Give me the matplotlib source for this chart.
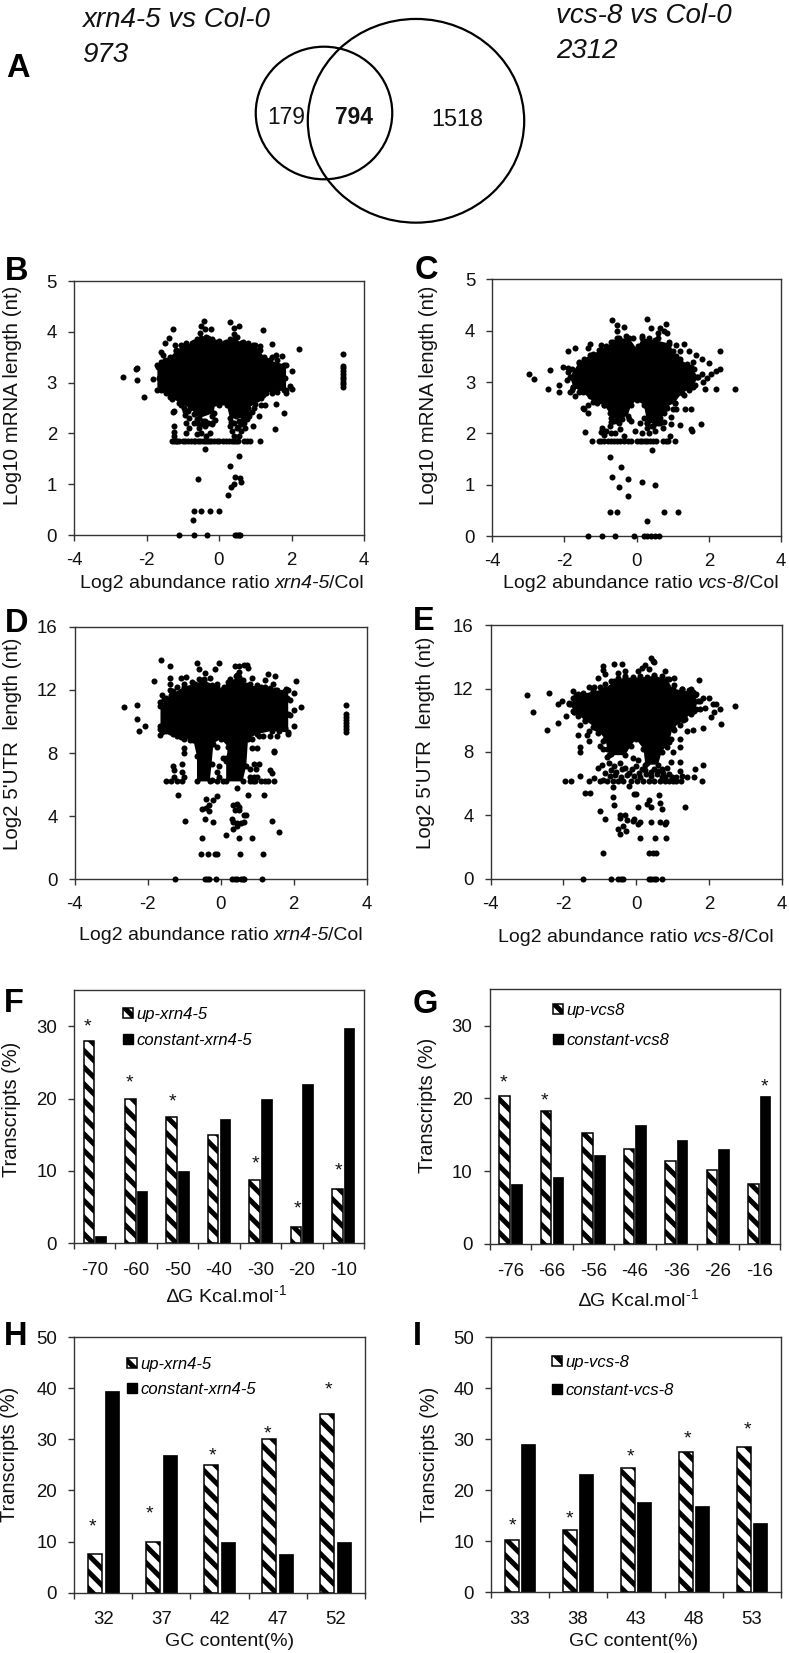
import numpy as np
import matplotlib
matplotlib.use("Agg")
import matplotlib.pyplot as plt
from matplotlib.patches import Ellipse, Patch

plt.rcParams['font.family'] = ['Liberation Sans', 'DejaVu Sans']
plt.rcParams['axes.unicode_minus'] = False
plt.rcParams['mathtext.default'] = 'regular'
plt.rcParams['mathtext.fontset'] = 'custom'
plt.rcParams['mathtext.rm'] = 'Liberation Sans'
plt.rcParams['mathtext.it'] = 'Liberation Sans:italic'
plt.rcParams['hatch.linewidth'] = 3.6
plt.rcParams['hatch.color'] = 'black'

W, H = 789, 1653

# ---- Scatter data: points. The saturated black middle of each
# cloud cannot be resolved into single points, so it is kept as a read-off outline.
b_core = [(-1.7,2.85),(-1.7,3.35),(-1.4,3.45),(-1.2,3.62),(-1.0,3.72),(-0.75,3.78),(-0.6,3.85),(-0.3,3.88),(-0.1,3.8),(0.2,3.8),(0.45,3.88),(0.6,3.78),(0.95,3.75),(1.1,3.65),(1.3,3.45),(1.85,3.35),(1.85,2.85),(1.3,2.8),(1.15,2.7),(1.0,2.58),(0.8,2.5),(0.72,2.3),(0.3,2.3),(0.22,2.55),(0.0,2.55),(-0.1,2.6),(-0.15,2.4),(-0.55,2.3),(-0.8,2.5),(-1.1,2.6),(-1.3,2.72)]
b_rim = [(-1.65,3.1),(-1.68,3.3),(-1.6,3.4),(-1.5,3.45),(-1.35,3.5),(-1.2,3.65),(-1.05,3.75),(-0.9,3.78),(-0.7,3.8),(-0.5,3.88),(-0.35,3.9),(-0.2,3.85),(0.0,3.82),(0.15,3.78),(0.3,3.85),(0.5,3.9),(0.65,3.8),(0.8,3.78),(1.0,3.75),(1.12,3.65),(1.25,3.5),(1.4,3.45),(1.6,3.45),(1.8,3.35),(1.82,3.1),(1.8,2.85),(1.6,2.82),(1.45,2.8),(1.2,2.75),(1.05,2.68),(-1.45,2.8),(-1.6,2.85),(-1.35,2.72),(-0.82,2.3),(-0.7,2.38),(-0.62,2.28),(-0.5,2.18),(-0.4,2.25),(-0.3,2.2),(-0.18,2.18),(0.32,2.22),(0.42,2.2),(0.52,2.12),(0.6,2.18),(0.7,2.2),(0.82,2.35),(-0.95,2.45),(0.92,2.42)]
b_pts = [(-2.65,3.12),(-2.3,3.27),(-2.27,3.28),(-2.27,3.05),(-1.83,3.07),(-2.07,2.71),(-0.42,4.22),(-0.5,4.11),(-0.38,4.06),(-0.52,3.98),(-0.23,4.06),(-1.27,4.05),(0.3,4.19),(0.55,4.12),(0.42,4.07),(0.42,3.95),(1.2,4.03),(1.47,3.76),(2.2,3.67),(1.13,3.72),(-1.38,3.87),(-1.5,3.78),(-1.22,3.75),(2.0,3.22),(1.47,3.5),(1.57,3.55),(1.75,3.52),(1.97,2.93),(2.02,2.87),(1.85,2.8),(1.57,2.57),(1.17,2.55),(1.27,2.55),(1.8,2.41),(1.1,2.35),(0.97,2.5),(0.95,2.14),(1.55,2.08),(1.13,1.86),(-1.6,3.6),(-1.55,3.55),(-1.3,2.68),(-1.2,2.72),(-1.25,2.45),(-1.28,2.43),(-1.05,2.55),(-0.97,2.5),(-0.95,2.37),(-0.85,2.45),(-0.72,2.55),
 (3.42,3.57),(3.42,3.33),(3.42,3.28),(3.42,3.22),(3.42,3.17),(3.42,3.12),(3.42,3.07),(3.42,3.02),(3.42,2.97),(3.42,2.92),
 (-1.3,1.86),(-1.25,1.86),(-1.2,1.86),(-1.15,1.86),(-1.1,1.86),(-1.0,1.86),(-0.95,1.86),(-0.85,1.86),(-0.78,1.86),(-0.7,1.86),(-0.65,1.86),(-0.58,1.86),(-0.52,1.86),(-0.45,1.86),(-0.4,1.86),(-0.33,1.86),(-0.28,1.86),(-0.22,1.86),(-0.15,1.86),(-0.05,1.86),(0.0,1.86),(0.1,1.86),(0.18,1.86),(0.28,1.86),(0.35,1.86),(0.42,1.86),(0.48,1.86),(0.52,1.86),(0.7,1.86),(0.78,1.86),(0.85,1.86),
 (-1.25,2.02),(-1.23,2.15),(-1.25,1.95),(-0.9,2.0),(-0.9,2.2),(-0.82,2.1),(-0.7,2.2),(-0.6,2.2),(-0.55,2.1),(-0.5,2.0),(-0.6,1.98),(-0.45,2.25),(-0.38,2.15),(-0.35,1.95),(-0.2,2.2),(-0.18,2.35),(-0.1,2.27),(-0.25,2.0),(0.3,2.15),(0.38,2.45),(0.35,2.05),(0.42,1.95),(0.5,2.1),(0.55,2.25),(0.62,2.05),(0.65,2.28),(0.78,2.28),(0.78,2.4),(0.72,2.1),(0.55,1.95),(0.48,2.35),
 (-0.4,1.69),(0.55,1.55),(0.3,1.35),(-0.58,1.11),(0.45,1.15),(0.58,1.12),(0.6,1.05),(0.42,1.0),(0.32,0.95),(0.25,0.78),(-0.68,0.48),(-0.5,0.48),(-0.25,0.48),(0.0,0.48),(-0.72,0.3),(-1.1,0),(-0.7,0),(-0.33,0),(0.45,0),(0.5,0),(0.55,0),(0.58,0)]

c_core = [(-1.85,3.1),(-1.6,3.38),(-1.3,3.52),(-1.0,3.62),(-0.65,3.78),(-0.5,3.85),(-0.2,3.85),(0.0,3.65),(0.15,3.85),(0.5,3.82),(0.9,3.75),(1.1,3.5),(1.5,3.3),(1.7,3.1),(1.55,2.9),(1.25,2.78),(1.05,2.6),(0.8,2.5),(0.65,2.2),(0.3,2.2),(0.2,2.55),(0.0,2.65),(-0.15,2.55),(-0.25,2.35),(-0.55,2.25),(-0.75,2.4),(-0.9,2.55),(-1.2,2.62),(-1.5,2.8),(-1.75,2.9)]
c_rim = [(-1.8,3.25),(-1.6,3.4),(-1.45,3.45),(-1.2,3.55),(-1.05,3.62),(-0.85,3.7),(-0.7,3.78),(-0.55,3.85),(-0.3,3.9),(-0.1,3.85),(0.05,3.7),(0.15,3.9),(0.35,3.85),(0.6,3.85),(0.9,3.78),(1.02,3.6),(1.2,3.45),(1.4,3.35),(1.58,3.25),(1.68,3.1),(1.62,2.95),(1.45,2.85),(1.3,2.75),(1.05,2.6),(0.85,2.5),(-0.9,2.55),(-1.1,2.6),(-1.3,2.72),(-1.6,2.8),(-1.8,2.85),(-0.72,2.3),(-0.62,2.24),(-0.5,2.2),(-0.4,2.28),(0.3,2.2),(0.42,2.15),(0.52,2.2),(0.62,2.28),(0.75,2.4)]
c_pts = [(-2.98,3.15),(-2.85,3.07),(-2.45,2.86),(-2.4,3.23),(-2.15,2.8),(-2.15,2.95),(-2.05,3.3),(-1.9,3.28),(-1.9,3.2),(-1.93,3.05),(-1.85,2.8),(-1.75,2.9),(-1.7,2.72),(-1.9,3.6),(-1.72,3.67),(-1.35,3.67),(-1.3,3.75),(-1.0,3.72),(-0.68,4.2),(-0.55,4.12),(-0.55,4.0),(-0.35,4.08),(0.3,4.22),(0.4,4.05),(0.6,3.95),(0.65,4.05),(0.8,4.13),(0.75,4.0),(0.83,3.95),(1.1,3.72),(1.3,3.75),(1.2,3.6),(1.45,3.6),(1.65,3.52),(1.8,3.45),(1.55,3.4),(2.0,3.37),(2.3,3.6),(2.3,3.25),(2.2,3.22),(2.05,3.15),(1.95,3.08),(1.85,3.0),(1.9,2.87),(2.2,2.86),(2.72,2.86),(1.8,3.15),(1.5,2.48),(1.35,2.47),(1.78,2.18),(1.5,2.08),(1.52,2.05),(1.2,2.16),(0.95,2.33),(0.95,2.18),(1.1,2.48),(1.02,2.47),(-1.45,2.47),(-1.35,2.55),(-1.35,2.4),(-1.5,2.5),(-1.43,2.03),
 (-1.25,1.86),(-1.05,1.86),(-1.0,1.86),(-0.9,1.86),(-0.8,1.86),(-0.72,1.86),(-0.62,1.86),(-0.55,1.86),(-0.45,1.86),(-0.35,1.86),(-0.25,1.86),(-0.15,1.86),(0.0,1.86),(0.08,1.86),(0.15,1.86),(0.22,1.86),(0.3,1.86),(0.38,1.86),(0.45,1.86),(0.55,1.86),(0.72,1.86),(0.8,1.86),(0.88,1.86),(1.05,1.86),
 (-1.0,2.02),(-0.95,2.1),(-0.9,1.98),(-0.85,2.05),(-0.75,2.15),(-0.72,2.0),(-0.7,2.22),(-0.6,2.0),(-0.45,2.08),(-0.35,1.95),(-0.2,2.28),(-0.15,2.25),(-0.05,2.05),(0.1,2.2),(0.15,2.0),(0.2,2.3),(0.28,2.1),(0.35,2.0),(0.45,2.15),(0.5,2.05),(0.6,2.2),(0.65,2.3),(0.72,2.1),(0.75,2.22),(0.92,1.95),
 (0.42,1.68),(-0.75,1.55),(-0.43,1.35),(-0.68,1.15),(-0.24,1.12),(0.14,1.05),(0.5,1.0),(-0.5,0.95),(-0.23,0.78),(-0.73,0.48),(-0.55,0.48),(0.75,0.48),(1.15,0.48),(0.28,0.3),(-1.35,0),(-0.95,0),(-0.6,0),(-0.08,0),(0.2,0),(0.3,0),(0.4,0),(0.5,0),(0.62,0)]

d_core = [(-1.65,9.5),(-1.65,11.0),(-1.35,11.7),(-1.0,12.2),(-0.7,12.4),(-0.45,12.6),(-0.1,12.2),(0.05,12.05),(0.2,12.5),(0.5,12.8),(0.7,12.3),(1.1,12.2),(1.5,12.0),(1.85,12.0),(1.85,9.3),(1.4,9.4),(1.0,9.2),(0.75,8.9),(0.7,7.2),(0.6,6.2),(0.15,6.2),(0.15,7.5),(0.2,8.4),(0.0,8.9),(-0.2,8.6),(-0.25,7.3),(-0.3,6.2),(-0.65,6.2),(-0.65,7.8),(-0.75,8.8),(-1.1,9.0),(-1.4,9.3)]
d_rim = [(-1.65,11.2),(-1.5,11.5),(-1.3,11.9),(-1.2,12.2),(-1.0,12.35),(-0.8,12.5),(-0.6,12.7),(-0.45,12.7),(-0.25,12.3),(-0.1,12.35),(0.1,12.2),(0.25,12.7),(0.45,12.95),(0.6,12.6),(0.8,12.35),(1.0,12.3),(1.2,12.2),(1.35,12.1),(1.55,12.0),(1.75,11.95),(1.83,11.5),(1.85,10.5),(1.75,9.6),(1.6,9.4),(-1.5,9.4),(-1.3,9.2),(-1.2,9.1),(-1.0,8.9),(-0.85,8.8),(0.85,8.9),(1.05,9.1)]
d_pts = [(-2.65,10.9),(-2.3,11.05),(-2.28,10.15),(-2.25,9.4),(-2.08,9.7),(-1.83,12.55),(-1.63,13.9),(-1.4,13.5),(-1.38,12.75),(-1.4,12.4),(-1.08,12.75),(-0.95,12.8),(-0.65,13.7),(-0.6,13.35),(-0.42,13.05),(-0.3,12.75),(-0.15,13.3),(-0.05,13.7),(0.4,13.5),(0.5,13.5),(0.65,13.55),(0.72,13.6),(0.75,13.4),(0.5,13.1),(0.42,12.9),(0.85,12.75),(1.2,12.6),(1.3,13.0),(1.5,12.85),(1.42,12.4),(2.07,12.55),(1.8,12.05),(2.0,11.8),(1.9,11.35),(2.2,10.9),(2.0,10.7),(1.9,10.4),(2.0,9.7),(1.85,9.2),(1.55,9.1),(1.35,9.1),(1.15,9.05),(-1.6,11.7),(-1.55,11.4),(-1.4,12.0),
 (3.42,11.05),(3.42,10.5),(3.42,10.3),(3.42,10.1),(3.42,9.9),(3.42,9.7),(3.42,9.5),(3.42,9.35),
 (-1.65,9.7),(-1.62,9.3),(-1.65,9.15),(-1.0,8.3),(-1.0,8.0),(1.0,8.3),(0.85,8.3),(1.45,8.15),(1.47,8.05),(-1.3,7.2),(-1.28,6.9),(-1.05,7.3),(-1.05,6.8),(0.9,7.3),(1.05,7.3),(1.35,6.9),(1.4,6.75),(0.97,7.0),(0.8,7.0),(-0.1,8.4),(0.05,7.7),(-0.05,7.2),(0.15,7.7),(-0.1,6.8),
 (-1.5,6.2),(-1.35,6.2),(-1.28,6.5),(-1.2,6.2),(-1.05,6.2),(-1.0,6.5),(-0.1,6.2),(-0.05,6.5),(0.05,6.2),(0.8,6.2),(0.88,6.2),(0.95,6.2),(1.0,6.5),(1.1,6.2),(1.2,6.2),(1.3,6.2),(1.45,6.2),(-0.25,6.3),(0.8,6.5),(0.9,6.5),
 (0.45,5.8),(-1.17,5.35),(0.75,5.35),(1.18,5.35),(-0.1,5.3),(-0.2,5.05),(-0.4,5.1),(0.35,4.7),(0.45,4.8),(0.5,4.6),(-0.32,4.7),(-0.5,4.45),(-0.4,4.5),(-0.33,4.3),(0.4,4.4),(0.5,4.4),(0.7,4.1),(0.63,4.1),(0.3,3.8),(0.35,3.6),(0.45,3.55),(0.55,3.55),(0.65,3.6),(-0.43,3.8),(-0.22,3.6),(-0.97,3.7),(1.4,3.7),(1.6,3.0),(0.35,3.2),(0.45,3.4),(0.15,2.8),(-0.52,2.6),(0.5,2.6),(0.87,2.6),(-0.55,1.6),(-0.35,1.6),(-0.15,1.6),(-0.1,1.6),(0.52,1.6),(1.17,1.6),(-1.25,0),(-0.42,0),(-0.38,0),(-0.33,0),(-0.12,0),(0.3,0),(0.38,0),(0.45,0),(0.55,0),(0.6,0),(0.65,0),(1.12,0)]

e_core = [(-1.8,11.0),(-1.65,11.6),(-1.2,11.8),(-0.85,12.0),(-0.6,12.5),(-0.3,12.7),(0.1,12.7),(0.5,12.8),(0.85,12.6),(1.0,12.0),(1.5,11.8),(1.7,11.2),(1.6,10.6),(1.3,10.0),(1.0,9.5),(0.9,8.6),(0.7,8.0),(0.6,7.2),(0.25,7.2),(0.2,8.2),(0.0,8.8),(-0.15,8.4),(-0.3,7.8),(-0.75,7.8),(-0.85,8.8),(-1.1,9.5),(-1.4,10.0),(-1.7,10.5)]
e_rim = [(-1.85,11.1),(-1.75,11.4),(-1.6,11.65),(-1.45,11.7),(-1.2,11.9),(-1.0,12.1),(-0.85,12.3),(-0.7,12.5),(-0.5,12.7),(-0.3,12.8),(-0.1,12.75),(0.1,12.8),(0.3,12.75),(0.5,12.85),(0.7,12.8),(0.9,12.6),(1.05,12.2),(1.25,12.0),(1.45,11.9),(1.62,11.6),(1.75,11.2),(1.65,10.7),(1.5,10.4),(1.35,10.1),(1.2,9.7),(1.05,9.4),(0.95,8.8),(0.85,8.3),(-1.75,10.6),(-1.6,10.3),(-1.4,9.95),(-1.2,9.6),(-1.05,9.2),(-0.9,8.7),(-0.8,8.2),(-0.7,7.85)]
e_pts = [(-3.0,11.6),(-2.85,10.55),(-2.45,9.4),(-2.4,11.7),(-2.15,11.0),(-2.15,9.8),(-2.05,11.2),(-1.92,10.25),(-1.85,11.0),(-1.75,11.85),(-1.7,10.5),(-1.3,12.1),(-1.15,12.1),(-1.05,12.65),(-0.9,13.45),(-0.9,13.2),(-0.85,12.9),(-0.6,13.55),(-0.4,13.55),(-0.5,13.0),(-0.3,13.1),(0.05,13.1),(0.1,12.6),(0.15,13.3),(0.25,13.5),(0.35,13.25),(0.4,13.95),(0.45,13.75),(0.5,13.7),(0.8,13.1),(1.05,12.7),(1.25,12.0),(1.5,11.95),(1.72,12.55),(1.55,11.8),(1.65,11.65),(1.85,11.4),(2.0,11.4),(2.1,11.05),(2.2,11.0),(2.3,10.7),(2.05,10.2),(2.15,10.5),(2.32,9.75),(1.85,9.5),(1.75,10.7),(1.9,10.8),(2.72,10.9),(1.55,9.4),(1.4,9.3),
 (-1.6,9.1),(-1.55,9.7),(-1.3,9.3),(-1.35,9.1),(-1.55,8.3),(-1.55,8.0),(-1.3,8.7),(-1.0,8.4),(-0.9,8.2),(1.0,8.0),(1.2,8.3),(1.2,8.85),(0.95,7.35),(1.2,7.4),(1.85,7.2),(1.63,6.9),(1.2,6.8),(-1.05,7.0),(-0.95,7.2),(-0.8,7.7),(-0.75,7.3),(-0.6,7.1),(-0.45,7.3),(-0.3,7.0),(-0.1,7.6),(0.0,7.1),(0.05,7.5),(0.15,6.9),(0.3,7.3),(0.5,6.9),(0.7,6.9),(0.85,7.0),(0.9,6.6),
 (-1.95,6.2),(-1.8,6.2),(-1.55,6.5),(-1.3,6.2),(-1.15,6.35),(-1.0,6.2),(-0.9,6.25),(-0.8,6.2),(-0.72,6.5),(-0.65,6.2),(-0.58,6.55),(-0.5,6.2),(-0.42,6.45),(-0.35,6.2),(-0.25,6.55),(-0.15,6.2),(-0.05,6.5),(0.02,6.2),(0.1,6.4),(0.2,6.2),(0.28,6.6),(0.35,6.2),(0.42,6.5),(0.5,6.2),(0.58,6.6),(0.65,6.2),(0.72,6.4),(0.8,6.2),(0.9,6.2),(1.0,6.2),(1.1,6.2),(1.22,6.2),(1.25,6.5),(1.4,6.45),(1.6,6.4),(1.8,6.2),
 (-0.85,6.7),(-0.7,6.85),(-0.55,6.75),(-0.4,6.9),(-0.2,6.7),(-0.12,6.95),(0.08,6.7),(0.25,6.85),(0.4,6.75),(0.6,6.8),(0.75,6.7),(0.8,6.45),(0.98,6.45),(1.1,6.4),
 (-1.4,5.4),(-1.28,5.4),(-0.65,5.8),(-0.2,5.85),(-0.05,5.35),(0.0,5.35),(0.62,5.3),(-0.65,5.15),(-0.6,4.65),(0.35,5.0),(0.3,4.7),(0.4,4.5),(0.65,4.8),(0.7,4.4),(0.05,4.5),(1.35,4.5),(-1.0,4.25),(-0.85,3.8),(-0.45,4.05),(-0.3,4.05),(-0.45,3.85),(-0.25,3.7),(-0.1,3.65),(-0.05,3.75),(0.05,3.45),(0.1,3.55),(0.4,3.55),(0.65,3.55),(0.8,3.45),(0.83,3.55),(-0.5,3.15),(-0.35,3.3),(-0.28,3.0),(-0.45,2.8),(0.1,2.6),(0.52,2.6),(0.82,2.6),(-0.9,1.6),(0.35,1.6),(0.45,1.6),(0.55,1.6),(-1.45,0),(-0.7,0),(-0.5,0),(-0.42,0),(-0.35,0),(0.35,0),(0.42,0),(0.5,0),(0.55,0),(0.7,0)]

# ---- Bar data
f_cats = ['-70','-60','-50','-40','-30','-20','-10']
f_up = [28, 20, 17.5, 15, 8.8, 2.2, 7.5]
f_const = [1, 7.2, 10, 17.2, 20, 22, 29.8]
f_star = [(0,-0.18,29.9),(1,-0.17,22.1),(2,-0.12,19.5),(4,-0.12,11.0),(5,-0.1,4.7),(6,-0.11,10.05)]

g_cats = ['-76','-66','-56','-46','-36','-26','-16']
g_up = [20.4, 18.3, 15.3, 13, 11.4, 10.2, 8.2]
g_const = [8.2, 9.2, 12.2, 16.3, 14.3, 13, 20.4]
g_star = [(0,-0.18,22.1),(1,-0.18,19.6),(6,0.137,21.6)]

h_cats = ['32','37','42','47','52']
h_up = [7.5, 10, 25, 30, 35]
h_const = [39.5, 27, 10, 7.6, 10]
h_star = [(0,-0.195,12.8),(1,-0.2,15.4),(2,-0.12,26.7),(3,-0.18,31.1),(4,-0.12,39.6)]

i_cats = ['33','38','43','48','53']
i_up = [10.2, 12.2, 24.4, 27.6, 28.5]
i_const = [29, 23.2, 17.7, 17, 13.5]
i_star = [(0,-0.126,13.1),(1,-0.15,14.3),(2,-0.09,26.6),(3,-0.115,30.1),(4,-0.08,31.8)]

fig = plt.figure(figsize=(W/100, H/100), dpi=100, facecolor='white')
SPINE = '#333333'

def make_axes(x0, x1, y0, y1):
    ax = fig.add_axes([x0/W, 1-y1/H, (x1-x0)/W, (y1-y0)/H])
    for s in ax.spines.values():
        s.set_color(SPINE); s.set_linewidth(1.0)
    ax.tick_params(axis='both', which='major', length=4.3, width=1.0, color=SPINE,
                   labelsize=13.4, pad=8, labelcolor='#111111')
    return ax

def scatter_panel(rect, core, rim, pts, ymax, ystep):
    ax = make_axes(*rect)
    ax.set_xlim(-4, 4); ax.set_ylim(0, ymax)
    ax.set_xticks(np.arange(-4, 5, 2)); ax.set_yticks(np.arange(0, ymax+1, ystep))
    c = np.array(core); r = np.array(rim); p = np.array(pts)
    ax.fill(c[:,0], c[:,1], color='black', lw=0, zorder=2)
    ax.scatter(c[:,0], c[:,1], s=19, c='black', linewidths=0, zorder=3)
    ax.scatter(r[:,0], r[:,1], s=19, c='black', linewidths=0, zorder=3)
    ax.scatter(p[:,0], p[:,1], s=19, c='black', linewidths=0, zorder=3, clip_on=False)
    return ax

def bar_panel(rect, cats, up, const, stars, ymax, ystep, width, offs, labels, leg_xy, pitch):
    ax = make_axes(*rect)
    n = len(cats)
    ax.set_xlim(0, n); ax.set_ylim(0, ymax)
    xs = np.arange(n) + 0.5
    ax.bar(xs-offs, up, width, facecolor='white', edgecolor='black', linewidth=1.1, hatch='\\\\', zorder=2)
    ax.bar(xs+offs, const, width, facecolor='black', edgecolor='black', linewidth=0.5, zorder=2)
    ax.set_xticks(np.arange(n+1)); ax.set_xticklabels([])
    ax.set_xticks(xs, minor=True); ax.set_xticklabels(cats, minor=True)
    ax.tick_params(axis='x', which='minor', length=0, labelsize=13.4, pad=13.5, labelcolor='#111111')
    ax.set_yticks(np.arange(0, ymax+1, ystep))
    for i, off, y in stars:
        ax.text(i+0.5+off, y, '*', ha='center', va='center', fontsize=14, color='#111111', zorder=4)
    handles = [Patch(facecolor='white', edgecolor='black', linewidth=1.1, hatch='\\\\'),
               Patch(facecolor='black', edgecolor='black')]
    ax.legend(handles, labels, loc='upper left', bbox_to_anchor=leg_xy, bbox_transform=ov.transData,
              frameon=False, borderpad=0, borderaxespad=0, handlelength=0.6, handleheight=0.6,
              handletextpad=0.2, labelspacing=(pitch-16.7*0.85)/16.7, prop={'style':'italic','size':12})
    return ax

ov = fig.add_axes([0, 0, 1, 1], zorder=-1)
ov.set_xlim(0, W); ov.set_ylim(H, 0); ov.axis('off')

def T(x, y, s, **kw):
    kw.setdefault('ha', 'center'); kw.setdefault('va', 'center')
    kw.setdefault('fontsize', 14); kw.setdefault('color', '#111111')
    return ov.text(x, y, s, **kw)

def mixed_label(cx, cy, before, ital, after, size=14, gap=5):
    """Centre a label made of an upright, an italic and an upright piece of text."""
    rend = fig.canvas.get_renderer()
    parts = [T(0, cy, before, ha='left', va='baseline', fontsize=size),
             T(0, cy, ital, ha='left', va='baseline', fontsize=size, style='italic'),
             T(0, cy, after, ha='left', va='baseline', fontsize=size)]
    widths = [p.get_window_extent(rend).width for p in parts]
    x = cx - (sum(widths) + gap - 1) / 2
    parts[0].set_x(x); x += widths[0] + gap
    parts[1].set_x(x); x += widths[1] - 1
    parts[2].set_x(x)
    for p in parts:
        p.set_y(cy + size * 100 / 72 * 0.35)

# Panel A: Venn
ov.add_patch(Ellipse((324, 113), 136.5, 132.6, fill=False, ec='black', lw=1.6))
ov.add_patch(Ellipse((416, 120.8), 216.4, 203.7, fill=False, ec='black', lw=1.6))
T(82, 27, 'xrn4-5 vs Col-0', ha='left', va='baseline', style='italic', fontsize=20)
T(82, 62, '973', ha='left', va='baseline', style='italic', fontsize=20)
T(556, 23, 'vcs-8 vs Col-0', ha='left', va='baseline', style='italic', fontsize=20)
T(556, 58, '2312', ha='left', va='baseline', style='italic', fontsize=20)
T(286.3, 117, '179', fontsize=16.4)
T(354, 117, '794', fontsize=16.4, weight='bold')
T(457, 120, '1518', fontsize=16.8)

# Panel letters
for x, y, s in [(6,77,'A'),(5,280,'B'),(415,279,'C'),(5,632,'D'),(413,630,'E'),(4,1012,'F'),(413,1013,'G'),(4,1345,'H'),(413,1345,'I')]:
    T(x, y, s, ha='left', va='baseline', fontsize=23.5, weight='bold', color='black')

scatter_panel((74, 364, 281, 535), b_core, b_rim, b_pts, 5, 1)
scatter_panel((492.3, 781, 279.3, 536.3), c_core, c_rim, c_pts, 5, 1)
scatter_panel((74.7, 366.7, 626.7, 879.3), d_core, d_rim, d_pts, 16, 4)
scatter_panel((490.7, 781.7, 625.3, 878.7), e_core, e_rim, e_pts, 16, 4)

bar_panel((74, 364, 990, 1243.3), f_cats, f_up, f_const, f_star, 35, 10, 0.255, 0.142,
          ['up-xrn4-5', 'constant-xrn4-5'], (122.7, 1007), 25)
bar_panel((489.7, 780, 989.3, 1244), g_cats, g_up, g_const, g_star, 35, 10, 0.255, 0.142,
          ['up-vcs8', 'constant-vcs8'], (552.7, 1003), 29)
bar_panel((74.3, 364.7, 1337, 1592.7), h_cats, h_up, h_const, h_star, 50, 10, 0.244, 0.142,
          ['up-xrn4-5', 'constant-xrn4-5'], (127, 1357), 24)
bar_panel((491, 781, 1337.3, 1592.3), i_cats, i_up, i_const, i_star, 50, 10, 0.244, 0.142,
          ['up-vcs-8', 'constant-vcs-8'], (552, 1355), 27)

# Axis labels
mixed_label(222, 581, 'Log2 abundance ratio', 'xrn4-5', '/Col')
mixed_label(641, 581, 'Log2 abundance ratio', 'vcs-8', '/Col')
mixed_label(221, 933, 'Log2 abundance ratio', 'xrn4-5', '/Col')
mixed_label(636, 935, 'Log2 abundance ratio', 'vcs-8', '/Col')
for x, y, s in [(226, 1295, '\u2206G Kcal.mol$^{\\text{-1}}$'),
                (638, 1299, '\u2206G Kcal.mol$^{\\text{-1}}$'),
                (230, 1641, 'GC content(%)'),
                (634, 1641, 'GC content(%)')]:
    T(x, y, s)
for x, y, s, fs in [(13, 395, 'Log10 mRNA length (nt)', 14.8), (429, 395, 'Log10 mRNA length (nt)', 14.8),
                (13, 744, "Log2 5'UTR  length (nt)", 14.8), (426, 743, "Log2 5'UTR  length (nt)", 14.8),
                (12, 1109, 'Transcripts (%)', 14.4), (428, 1105, 'Transcripts (%)', 14.4),
                (10, 1454, 'Transcripts (%)', 14.4), (430, 1454, 'Transcripts (%)', 14.4)]:
    T(x, y, s, rotation=90, fontsize=fs)
for x, y, s in [(312, 516, 'R$^2$= 0.23'), (728, 517, 'R$^2$= 0.15'), (315, 864, 'R$^2$= 0.21'), (721, 860, 'R$^2$= 0.3')]:
    T(x, y, s)

fig.savefig('out.png', dpi=100, facecolor='white')
